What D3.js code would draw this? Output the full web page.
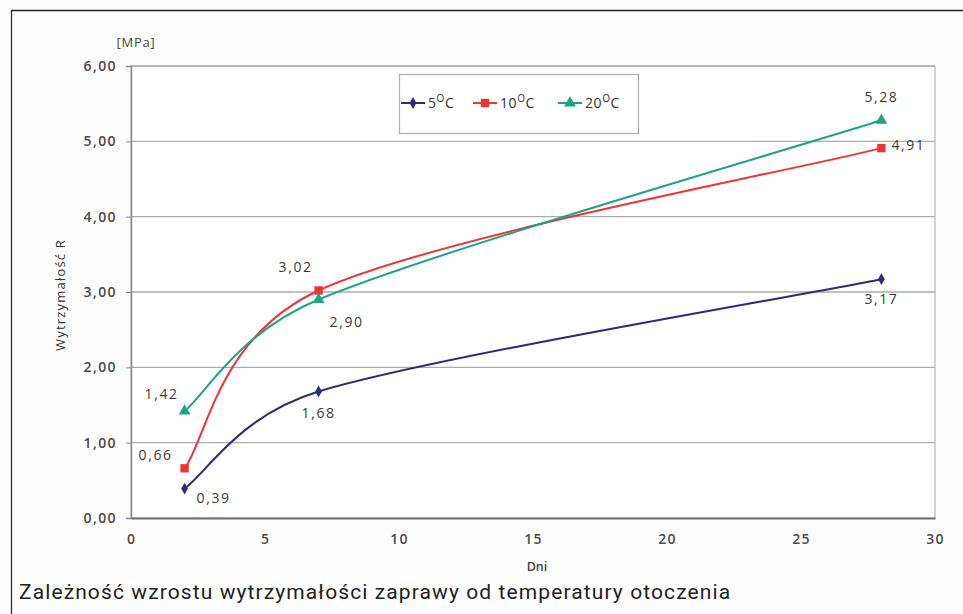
<!DOCTYPE html>
<html>
<head>
<meta charset="utf-8">
<script src="https://cdn.jsdelivr.net/npm/d3@7"></script>
<style>
  html, body { margin: 0; padding: 0; background: #fdfdfd; }
  svg { display: block; }
</style>
</head>
<body>
<svg id="chart" width="963" height="614"></svg>
<script>
// ---- data ----
const days = [2, 7, 28];
const series5 = [0.39, 1.68, 3.17];
const series10 = [0.66, 3.02, 4.91];
const series20 = [1.42, 2.90, 5.28];
const seriesNames = ["5", "10", "20"];
const xTicks = [0, 5, 10, 15, 20, 25, 30];
const yTicks = [0, 1, 2, 3, 4, 5, 6];

const colors = ["#2c2a80", "#ee3534", "#1ba583"];
const symbols = [d3.symbolDiamond, d3.symbolSquare, d3.symbolTriangle];
const symSizes = [40, 70, 60];
// label offsets [dx, dy] relative to point (center of text)
const labelOffsets = [
  [[29, 9], [0, 22], [0, 20]],
  [[-29, -13], [-23, -23], [27, -3]],
  [[-23, -17], [28, 23], [0, -23]]
];

const allSeries = [series5, series10, series20];

const svg = d3.select("#chart");
const FONT = "Open Sans, sans-serif";

// outer frame (top and left lines)
svg.append("line").attr("x1", 11.5).attr("x2", 963).attr("y1", 10.5).attr("y2", 10.5)
  .attr("stroke", "#222").attr("stroke-width", 1.3);
svg.append("line").attr("x1", 11.5).attr("x2", 11.5).attr("y1", 10).attr("y2", 614)
  .attr("stroke", "#333").attr("stroke-width", 1.3);

const x = d3.scaleLinear().domain([0, 30]).range([131, 935]);
const y = d3.scaleLinear().domain([0, 6]).range([518, 66]);

// plot background
svg.append("rect").attr("x", x(0)).attr("y", y(6)).attr("width", x(30) - x(0)).attr("height", y(0) - y(6))
  .attr("fill", "#fff").attr("stroke", "#b8b8b8").attr("stroke-width", 1.2);

// gridlines
svg.append("g").selectAll("line").data(yTicks.filter(d => d > 0)).join("line")
  .attr("x1", x(0)).attr("x2", x(30))
  .attr("y1", d => y(d)).attr("y2", d => y(d))
  .attr("stroke", "#ababab").attr("stroke-width", 1.3);

const fmt = d => d3.format(".2f")(d).replace(".", ",");

// y axis
const yAxis = d3.axisLeft(y).tickValues(yTicks).tickFormat(fmt).tickSize(5).tickPadding(9);
const gy = svg.append("g").attr("transform", `translate(${x(0)},0)`).call(yAxis);
gy.select(".domain").attr("stroke", "#8a8a8a").attr("stroke-width", 1.5);
gy.selectAll(".tick line").attr("stroke", "#8a8a8a");
gy.selectAll(".tick text").attr("font-family", FONT).attr("font-size", 14)
  .attr("letter-spacing", 1.4).attr("fill", "#4a4a4a").attr("font-weight", 600);

// x axis
const xAxis = d3.axisBottom(x).tickValues(xTicks).tickSize(0).tickPadding(16);
const gx = svg.append("g").attr("transform", `translate(0,${y(0)})`).call(xAxis);
gx.select(".domain").attr("stroke", "#707070").attr("stroke-width", 2);
gx.selectAll(".tick text").attr("font-family", FONT).attr("font-size", 14)
  .attr("letter-spacing", 1.2).attr("fill", "#4a4a4a").attr("font-weight", 600);

// axis titles
svg.append("text").attr("x", 136).attr("y", 47).attr("text-anchor", "middle")
  .attr("font-family", FONT).attr("font-size", 13).attr("letter-spacing", 0.8).attr("fill", "#444")
  .text("[MPa]");
svg.append("text").attr("transform", `translate(65,295) rotate(-90)`).attr("text-anchor", "middle")
  .attr("font-family", FONT).attr("font-size", 13).attr("letter-spacing", 1.2).attr("fill", "#333")
  .text("Wytrzymałość R");
svg.append("text").attr("x", 537).attr("y", 571).attr("text-anchor", "middle")
  .attr("font-family", FONT).attr("font-size", 12.5).attr("fill", "#444").attr("font-weight", 600)
  .text("Dni");

// Excel-style smoothed line (Bezier with limited control points), computed in pixel space
function smoothPath(vals) {
  const pts = vals.map((v, i) => [x(days[i]), y(v)]);
  const dist = (a, b) => Math.hypot(a[0] - b[0], a[1] - b[1]);
  const p = d3.path();
  p.moveTo(pts[0][0], pts[0][1]);
  for (let i = 0; i < pts.length - 1; i++) {
    const p0 = pts[Math.max(0, i - 1)], p1 = pts[i], p2 = pts[i + 1], p3 = pts[Math.min(pts.length - 1, i + 2)];
    const d12 = dist(p1, p2), d02 = dist(p0, p2), d13 = dist(p1, p3);
    let f0 = 1 / 6, f1 = 1 / 6;
    if (d02 / 6 >= d12 / 2) f0 = (d12 / 2) / d02;
    if (d13 / 6 >= d12 / 2) f1 = (d12 / 2) / d13;
    const c1 = [p1[0] + f0 * (p2[0] - p0[0]), p1[1] + f0 * (p2[1] - p0[1])];
    const c2 = [p2[0] - f1 * (p3[0] - p1[0]), p2[1] - f1 * (p3[1] - p1[1])];
    p.bezierCurveTo(c1[0], c1[1], c2[0], c2[1], p2[0], p2[1]);
  }
  return p.toString();
}

allSeries.forEach((s, k) => {
  svg.append("path").datum(s).attr("d", smoothPath).attr("fill", "none")
    .attr("stroke", colors[k]).attr("stroke-width", 2);
});

allSeries.forEach((s, k) => {
  svg.append("g").selectAll("path").data(s).join("path")
    .attr("transform", (d, i) => `translate(${x(days[i])},${y(d)})`)
    .attr("d", d3.symbol().type(symbols[k]).size(symSizes[k]))
    .attr("fill", colors[k]);
  svg.append("g").selectAll("text").data(s).join("text")
    .attr("x", (d, i) => x(days[i]) + labelOffsets[k][i][0])
    .attr("y", (d, i) => y(d) + labelOffsets[k][i][1])
    .attr("dy", "0.35em").attr("text-anchor", "middle")
    .attr("font-family", FONT).attr("font-size", 14).attr("letter-spacing", 1.6).attr("fill", "#3a3a3a")
    .text(fmt);
});

// legend
const lg = svg.append("g");
lg.append("rect").attr("x", 399.5).attr("y", 74.5).attr("width", 239).attr("height", 59)
  .attr("fill", "#fff").attr("stroke", "#b0b0b0").attr("stroke-width", 1.2);
const legendX = [401, 473, 558];
seriesNames.forEach((n, k) => {
  const g = lg.append("g").attr("transform", `translate(${legendX[k]},103)`);
  g.append("line").attr("x1", 0).attr("x2", 24).attr("stroke", colors[k]).attr("stroke-width", 2);
  g.append("path").attr("transform", "translate(12,0)")
    .attr("d", d3.symbol().type(symbols[k]).size(symSizes[k])).attr("fill", colors[k]);
  const t = g.append("text").attr("x", 27).attr("y", 0).attr("dy", "0.35em")
    .attr("font-family", FONT).attr("font-size", 14).attr("letter-spacing", 0.6).attr("fill", "#333");
  t.append("tspan").text(n);
  t.append("tspan").attr("font-size", 10).attr("dy", "-0.6em").text("O");
  t.append("tspan").attr("dy", "0.45em").text("C");
});

// caption
svg.append("text").attr("x", 19).attr("y", 599)
  .attr("font-family", "Roboto, sans-serif").attr("font-size", 21).attr("letter-spacing", 1.1).attr("fill", "#222")
  .text("Zależność wzrostu wytrzymałości zaprawy od temperatury otoczenia");
</script>
</body>
</html>
